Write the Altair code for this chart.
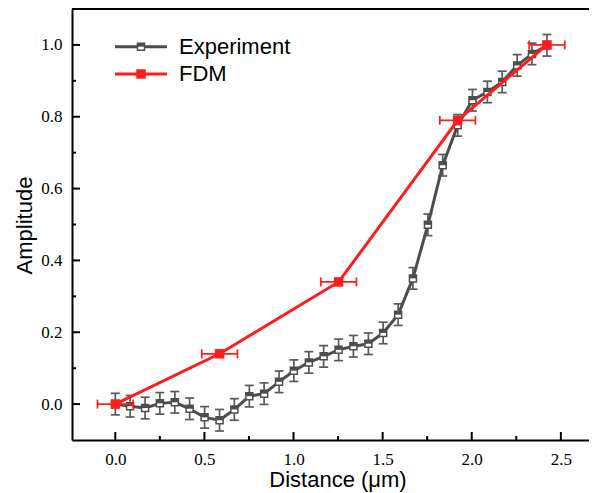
import altair as alt
import pandas as pd

# ---------------- data ----------------
exp_x = [0.000, 0.083, 0.167, 0.250, 0.334, 0.417, 0.501, 0.585, 0.668, 0.752,
         0.835, 0.919, 1.002, 1.086, 1.169, 1.253, 1.336, 1.420, 1.503, 1.587,
         1.670, 1.754, 1.837, 1.921, 2.004, 2.088, 2.171, 2.255, 2.338, 2.422]
exp_y = [0.000, -0.006, -0.011, 0.002, 0.005, -0.013, -0.037, -0.045, -0.015, 0.022,
         0.029, 0.062, 0.093, 0.116, 0.133, 0.151, 0.161, 0.168, 0.198, 0.249,
         0.350, 0.499, 0.665, 0.776, 0.846, 0.869, 0.897, 0.943, 0.975, 0.999]
exp_err = [0.03, 0.03, 0.03, 0.03, 0.03, 0.03, 0.03, 0.03, 0.03, 0.03,
           0.03, 0.03, 0.03, 0.03, 0.03, 0.03, 0.03, 0.03, 0.03, 0.03,
           0.03, 0.03, 0.03, 0.03, 0.03, 0.03, 0.03, 0.03, 0.03, 0.03]
fdm_x = [0.000, 0.585, 1.253, 1.921, 2.422]
fdm_y = [0.000, 0.140, 0.340, 0.790, 1.000]
fdm_xerr = [0.10, 0.10, 0.10, 0.10, 0.10]

series = ["Experiment", "FDM"]
x_major = [0.0, 0.5, 1.0, 1.5, 2.0, 2.5]
x_minor = [0.25, 0.75, 1.25, 1.75, 2.25]
y_major = [0.0, 0.2, 0.4, 0.6, 0.8, 1.0]
y_minor = [0.1, 0.3, 0.5, 0.7, 0.9]
x_title = "Distance (μm)"
y_title = "Amplitude"

# ---------------- styles ----------------
W, H = 517, 431
GRAY = "#4d4d4d"
EGRAY = "#5a5a5a"
RED = "#ff1c1c"
XD = [-0.243, 2.658]
YD = [-0.1, 1.1]

xs = alt.Scale(domain=XD, nice=False, zero=False)
ys = alt.Scale(domain=YD, nice=False, zero=False)

x_axis = alt.Axis(values=x_major, format=".1f", title=x_title, grid=False,
                  ticks=False, tickSize=0, domainColor="black", domainWidth=2,
                  labelFont="Liberation Serif", labelFontSize=17, labelColor="black",
                  labelPadding=24, labelBaseline="alphabetic", labelFlush=False,
                  labelOverlap=False,
                  titleFont="Liberation Sans", titleFontSize=22, titleFontWeight="normal",
                  titleColor="black", titleX=265.5, titleY=46.5,
                  titleBaseline="alphabetic", titleAlign="center")
y_axis = alt.Axis(values=y_major, format=".1f", title=y_title, grid=False,
                  ticks=False, tickSize=0, domainColor="black", domainWidth=2,
                  labelFont="Liberation Serif", labelFontSize=17, labelColor="black",
                  labelPadding=10, labelFlush=False, labelOverlap=False,
                  titleFont="Liberation Sans", titleFontSize=22, titleFontWeight="normal",
                  titleColor="black", titleX=-41, titleY=216, titleAngle=270,
                  titleBaseline="alphabetic", titleAlign="center")


def X(f):
    return alt.X(f, type="quantitative", scale=xs, axis=x_axis)


def Y(f):
    return alt.Y(f, type="quantitative", scale=ys, axis=y_axis)


exp_df = pd.DataFrame({"x": exp_x, "y": exp_y, "e": exp_err})
exp_df["lo"] = exp_df["y"] - exp_df["e"]
exp_df["hi"] = exp_df["y"] + exp_df["e"]
fdm_df = pd.DataFrame({"x": fdm_x, "y": fdm_y, "e": fdm_xerr})
fdm_df["lo"] = fdm_df["x"] - fdm_df["e"]
fdm_df["hi"] = fdm_df["x"] + fdm_df["e"]

one = pd.DataFrame({"s": [series[0]]})
two = pd.DataFrame({"s": [series[1]]})

HALF = "M-1,-1L1,-1L1,0L-1,0Z"

layers = []

# axis ticks (inward)
layers.append(alt.Chart(pd.DataFrame({"v": x_major})).mark_rule(color="black", strokeWidth=2)
              .encode(x=X("v"), y=alt.value(H), y2=alt.value(H - 8)))
layers.append(alt.Chart(pd.DataFrame({"v": x_minor})).mark_rule(color="black", strokeWidth=2)
              .encode(x=X("v"), y=alt.value(H), y2=alt.value(H - 4)))
layers.append(alt.Chart(pd.DataFrame({"v": y_major})).mark_rule(color="black", strokeWidth=2)
              .encode(y=Y("v"), x=alt.value(0), x2=alt.value(8)))
layers.append(alt.Chart(pd.DataFrame({"v": y_minor})).mark_rule(color="black", strokeWidth=2)
              .encode(y=Y("v"), x=alt.value(0), x2=alt.value(4)))
# top frame line
layers.append(alt.Chart(one).mark_rule(color="black", strokeWidth=2)
              .encode(x=alt.value(0), x2=alt.value(W), y=alt.value(0)))

# experiment
eb = alt.Chart(exp_df)
layers.append(eb.mark_rule(color=EGRAY, strokeWidth=1.7).encode(x=X("x"), y=Y("lo"), y2="hi"))
layers.append(eb.mark_tick(color=EGRAY, orient="horizontal", size=9, thickness=1.7, opacity=1)
              .encode(x=X("x"), y=Y("lo")))
layers.append(eb.mark_tick(color=EGRAY, orient="horizontal", size=9, thickness=1.7, opacity=1)
              .encode(x=X("x"), y=Y("hi")))
layers.append(eb.mark_line(color=GRAY, strokeWidth=3).encode(x=X("x"), y=Y("y")))
layers.append(eb.mark_point(shape="square", filled=True, fill="white", stroke=GRAY,
                            strokeWidth=1.5, size=49, opacity=1)
              .encode(x=X("x"), y=Y("y")))
layers.append(eb.mark_point(shape=HALF, filled=True, color=GRAY, size=49, opacity=1)
              .encode(x=X("x"), y=Y("y")))

# FDM
fb = alt.Chart(fdm_df)
layers.append(fb.mark_rule(color=RED, strokeWidth=1.7).encode(x=X("lo"), x2="hi", y=Y("y")))
layers.append(fb.mark_tick(color=RED, orient="vertical", size=9, thickness=1.7, opacity=1)
              .encode(x=X("lo"), y=Y("y")))
layers.append(fb.mark_tick(color=RED, orient="vertical", size=9, thickness=1.7, opacity=1)
              .encode(x=X("hi"), y=Y("y")))
layers.append(fb.mark_line(color=RED, strokeWidth=3).encode(x=X("x"), y=Y("y")))
layers.append(fb.mark_point(shape="square", filled=True, color=RED, size=90, opacity=1)
              .encode(x=X("x"), y=Y("y")))

# legend
L1, L2 = 37.7, 65
layers.append(alt.Chart(one).mark_rule(color=GRAY, strokeWidth=3)
              .encode(x=alt.value(43), x2=alt.value(95), y=alt.value(L1)))
layers.append(alt.Chart(one).mark_point(shape="square", filled=True, fill="white", stroke=GRAY,
                                         strokeWidth=1.5, size=49, opacity=1)
              .encode(x=alt.value(69), y=alt.value(L1)))
layers.append(alt.Chart(one).mark_point(shape=HALF, filled=True, color=GRAY, size=49, opacity=1)
              .encode(x=alt.value(69), y=alt.value(L1)))
layers.append(alt.Chart(one).mark_text(align="left", baseline="middle", font="Liberation Sans",
                                        fontSize=22, color="black")
              .encode(text="s:N", x=alt.value(107), y=alt.value(L1)))
layers.append(alt.Chart(two).mark_rule(color=RED, strokeWidth=3)
              .encode(x=alt.value(43), x2=alt.value(95), y=alt.value(L2)))
layers.append(alt.Chart(two).mark_point(shape="square", filled=True, color=RED, size=90, opacity=1)
              .encode(x=alt.value(69), y=alt.value(L2)))
layers.append(alt.Chart(two).mark_text(align="left", baseline="middle", font="Liberation Sans",
                                        fontSize=22, color="black")
              .encode(text="s:N", x=alt.value(107), y=alt.value(L2)))

chart = alt.layer(*layers).properties(
    width=W, height=H,
    padding={"left": 64, "top": 1, "right": 0, "bottom": 53},
    autosize=alt.AutoSizeParams(type="none"),
    background="white",
).configure_view(stroke=None)

chart.save("out.html", embed_options={"renderer": "svg", "actions": False})
